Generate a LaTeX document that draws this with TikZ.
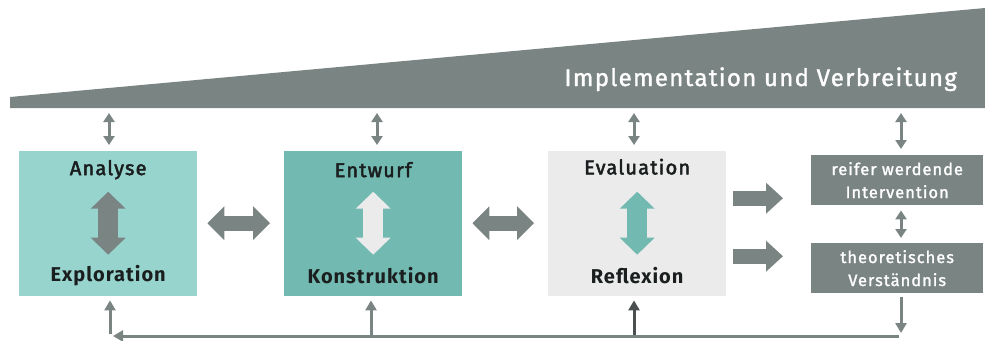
\documentclass[tikz,border=0pt]{standalone}
\usepackage{fontspec}
\setmainfont{Fira Sans}
\usetikzlibrary{arrows.meta,positioning}
\definecolor{dgray}{HTML}{7A8482}
\definecolor{lteal}{HTML}{97D4CE}
\definecolor{mteal}{HTML}{72BAB1}
\definecolor{lgray}{HTML}{EBEBEB}
\definecolor{darkg}{HTML}{4A5050}
\definecolor{txt}{HTML}{1A1E1E}
\tikzset{
  phasebox/.style={minimum width=178pt,minimum height=145pt,inner sep=0pt,anchor=north west},
  outbox/.style={fill=dgray,minimum width=172pt,minimum height=50pt,inner sep=0pt,anchor=north west,
    text=white,align=center,font=\fontsize{16.5}{23}\selectfont\addfontfeatures{LetterSpace=6,FakeBold=1.5}},
  toplabel/.style={text=txt,font=\fontsize{20}{22}\selectfont\addfontfeatures{LetterSpace=6,FakeBold=2.5}},
  botlabel/.style={text=txt,font=\bfseries\fontsize{20}{22}\selectfont\addfontfeatures{LetterSpace=5}},
  fath/.style={draw=dgray,line width=15pt,{Triangle[width=33pt,length=17pt]}-{Triangle[width=33pt,length=17pt]}},
  fatr/.style={draw=dgray,line width=15pt,-{Triangle[width=30pt,length=17pt]}},
  fatv/.style={line width=20pt,{Triangle[width=34pt,length=17pt]}-{Triangle[width=34pt,length=17pt]}},
  thin2/.style={draw=dgray,line width=3pt,{Triangle[width=11pt,length=9pt]}-{Triangle[width=11pt,length=9pt]}},
  thin1/.style={draw=dgray,line width=3pt,-{Triangle[width=11pt,length=10pt]}},
}
\begin{document}
\begin{tikzpicture}[x=1pt,y=-1pt]
\useasboundingbox (0,0) rectangle (985,340);
% wedge
\fill[dgray] (10,97) -- (985,8) -- (985,108) -- (10,108) -- cycle;
\node[anchor=base east,text=white,inner sep=0pt,font=\fontsize{24}{26}\selectfont\addfontfeatures{LetterSpace=5.5,FakeBold=1.5}] (impl) at (957,86) {Implementation und Verbreitung};
\coordinate (w1) at (109,108);
\coordinate (w2) at (377,108);
\coordinate (w3) at (634,108);
\coordinate (w4) at (901,108);
% boxes
\node[phasebox,fill=lteal] (A) at (19,151) {};
\node[phasebox,fill=mteal] (B) at (284,151) {};
\node[phasebox,fill=lgray] (C) at (548,151) {};
\node[outbox] (D) at (811,155) {reifer werdende\\Intervention};
\node[outbox] (E) at (811,243) {theoretisches\\Verständnis};
% labels
\node[toplabel] (A1) at ([yshift=54]A.center) {Analyse};
\node[botlabel] (A2) at ([yshift=-52]A.center) {Exploration};
\node[toplabel] (B1) at ([yshift=54]B.center) {Entwurf};
\node[botlabel] (B2) at ([yshift=-52]B.center) {Konstruktion};
\node[toplabel] (C1) at ([yshift=57]C.center) {Evaluation};
\node[botlabel] (C2) at ([yshift=-52]C.center) {Reflexion};
% inner arrows
\draw[fatv,draw=dgray] ([yshift=32]A.center) -- ([yshift=-31]A.center);
\draw[fatv,draw=lgray] ([yshift=32]B.center) -- ([yshift=-31]B.center);
\draw[fatv,draw=mteal] ([yshift=32]C.center) -- ([yshift=-31]C.center);
% fat connectors
\draw[fath] ([xshift=10,yshift=0.5]A.east) -- ([xshift=-14,yshift=0.5]B.west);
\draw[fath] ([xshift=10,yshift=0.5]B.east) -- ([xshift=-14,yshift=0.5]C.west);
\draw[fatr] ([xshift=7,yshift=25.5]C.east) -- ([xshift=-28,yshift=-18]D.west);
\draw[fatr] ([xshift=7,yshift=-32.5]C.east) -- ([xshift=-28,yshift=12]E.west);
% thin arrows from wedge
\draw[thin2] ([yshift=-5]w1) -- ([yshift=6]A.north -| w1);
\draw[thin2] ([yshift=-5]w2) -- ([yshift=6]B.north -| w2);
\draw[thin2] ([yshift=-5]w3) -- ([yshift=6]C.north -| w3);
\draw[thin2] ([yshift=-5]w4) -- ([yshift=6]D.north -| w4);
\draw[thin2] ([yshift=-5]D.south -| w4) -- ([yshift=5]E.north -| w4);
% feedback loop
\coordinate (bl) at (113,336);
\coordinate (br) at (899,336);
\coordinate (f1) at (110,336);
\coordinate (f2) at (371,336);
\coordinate (f3) at (634,336);
\draw[dgray,line width=3pt,-{Triangle[width=11pt,length=10pt]}] (br) -- (bl);
\draw[thin1] ([yshift=-4]E.south -| w4) -- ([yshift=3]br -| w4);
\draw[thin1] ([yshift=2]f1) -- ([yshift=-4]A.south -| f1);
\draw[thin1] ([yshift=1]f2) -- ([yshift=-4]B.south -| f2);
\draw[thin1,draw=darkg] ([yshift=1]f3) -- ([yshift=-4]C.south -| f3);
\end{tikzpicture}
\end{document}
